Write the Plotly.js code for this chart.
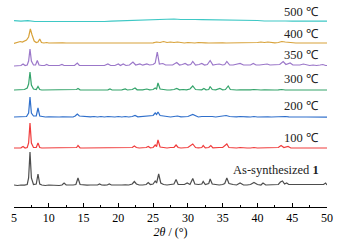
<!DOCTYPE html>
<html><head><meta charset="utf-8">
<script src="https://cdn.plot.ly/plotly-3.0.1.min.js"></script>
<style>body{margin:0;background:#fff}#c{width:340px;height:249px}</style>
</head><body><div id="c"></div>
<script>
// Series labels (bottom to top)
const labels = ['As-synthesized <b>1</b>', '100 ℃', '200 ℃', '300 ℃', '350 ℃', '400 ℃', '500 ℃'];

// As-synthesized 1
const xAs = [5,5.5,6,6.5,6.9,7.1,7.3,7.5,7.8,8.2,8.45,8.7,9,9.5,10,10.5,11,11.5,11.9,12.2,12.5,13,13.5,13.9,14.2,14.5,15,15.5,16,16.5,17,17.3,17.6,18,18.4,18.7,19,19.5,20,20.5,21,21.5,22,22.3,22.6,23,23.5,24,24.3,24.6,25,25.3,25.5,25.8,26.1,26.5,27,27.5,28,28.3,28.6,29,29.5,29.9,30.3,30.7,31,31.5,32,32.2,32.5,33,33.2,33.5,34,34.5,35,35.3,35.6,35.9,36.5,37,37.5,38,38.5,39,39.5,40,40.5,40.8,41.2,42,42.5,43,43.3,43.6,43.9,44.2,44.5,45,45.5,46,46.5,47,47.5,48,48.5,49,49.5,49.8,50];
const yAs = [1,0.5,1,0.8,1.5,8,34,8,1.5,2,12,2,1,0.5,1,0.8,1,0.5,1,3,1,0.8,1,1.5,8,1.5,1,0.8,1,0.8,1,2,1,0.8,1,2,1,1,0.8,1,1.2,1,2,4.5,2,1,1,1.5,3.5,1.5,2,5,3,12,3,1.5,1,1.5,2,6.5,1.5,1.5,1.5,3,1.5,7.5,2,1.5,2,4.5,1.5,2.5,7,2,1.5,1,1.5,2.5,8,2.5,1.5,1,3,1,1,1.5,3.5,1.5,1,3,1,1,1,1.5,4,5,2,3,1.5,1.5,1,1,1.2,1,1,1.2,1,1,1.5,3,1];

// 100 ℃
const x100 = [5,5.5,6,6.3,6.6,6.9,7.1,7.3,7.5,7.8,8.2,8.45,8.7,9,9.5,10,10.5,11,11.5,12,12.5,13,13.5,14,14.2,14.5,15,15.5,16,16.5,17,17.5,18,18.5,19,19.5,20,20.5,21,21.5,22,22.3,22.6,23,23.5,24,24.3,24.6,25,25.3,25.5,25.7,26,26.5,27,27.5,28,28.3,28.6,29,29.5,30,30.7,31.1,31.5,32,32.2,32.5,33,33.3,33.6,34,34.5,35,35.6,35.9,36.5,37,37.5,38,38.5,39,39.5,40,40.5,41,41.5,42,42.5,43,43.4,43.8,44.4,44.8,45.5,46,46.5,47,47.5,48,48.5,49,49.5,50];
const y100 = [1,0.8,1.2,2.5,1,1.5,6,26,6,1.5,1.5,6,1.5,1,1,0.8,1,1,0.8,1,1,1,1,1.5,3.5,1,1,1,0.8,1,1,1,1,1.2,1,1,1,1,1.2,1,1.5,3,1.5,1,1,1.5,2.5,1.2,1.5,4,2.5,9,2,1.2,1,1.5,1.5,4,1.5,1,1.5,1.5,5,1.5,1.2,1.5,3.5,1.2,1.5,3.5,1.2,1,1.5,1.5,5,1.5,1,1,1.5,1,1,1,1.5,1,1,1.2,1,1,1,1.5,3.5,1.5,2.5,1,1,1,1,1,1,1,1,1,1,1];

// 200 ℃
const x200 = [5,5.5,6,6.4,6.8,7.1,7.3,7.5,7.8,8.2,8.45,8.7,9,9.5,10,10.5,11,11.5,12,12.5,13,13.5,13.8,14.1,14.4,15,15.5,16,16.5,17,17.5,18,18.5,19,19.5,20,20.5,21,21.5,22,22.4,22.8,23.5,24,24.5,25,25.3,25.5,25.7,26,26.5,27,27.5,28,28.5,29,29.5,30,30.7,31.2,31.5,32,32.5,33,33.5,34,34.5,35,35.5,36,36.5,37,37.5,38,38.5,39,39.5,40,40.5,41,41.5,42,42.5,43,43.5,44,44.5,45,45.5,46,46.5,47,47.5,48,48.5,49,49.5,50];
const y200 = [1,1,1.2,1.5,1.5,5,21,5,2,2,10,2,1.5,1,1.2,1,1,1,1.2,1,1.2,1,2,4,2,1.5,1,1.2,1.5,1,1.5,1,1.5,1.2,1,1.5,1,1.5,1,1.5,2.5,1.2,1.5,1.5,2,2.5,5,3.5,6,2.5,2,1.5,1,1.5,2,1.2,1.5,1.5,3.5,1.5,1,1.5,1.5,2,1.5,1,1.5,1.5,2.5,1.5,1,1.2,1.5,1,1.2,1,1.5,1,1.2,1,1.2,1,1.2,1.5,2,1.5,1.2,1,1,1.2,1,1,1,1,1,1,1,0.8];

// 300 ℃
const x300 = [5,5.5,6,6.5,6.9,7.1,7.3,7.5,7.8,8.2,8.45,8.7,9,9.5,10,10.5,11,11.5,12,12.5,13,13.5,14,14.2,14.5,15,15.5,16,16.5,17,17.5,18,18.5,18.8,19.1,19.5,20,20.5,21,21.3,22,22.4,22.7,23.5,24.1,24.5,25,25.3,25.5,25.7,26,26.5,27,27.5,28,28.4,28.8,29.3,29.8,30.3,30.7,31.1,31.5,32,32.3,32.6,33,33.2,33.5,34,34.6,35,35.4,35.8,36.1,36.5,37,37.5,38,38.5,39,39.5,40,40.5,41,41.5,42,42.5,43,43.5,44,44.5,45,45.5,46,46.5,47,47.5,48,48.5,49,49.5,50];
const y300 = [1,1,1.2,1.5,3,7,19,6,2,1.5,4.5,1.5,1,1,1,1,1,1,1,1,1,1,1.5,2.5,1.2,1,1,1,1,1.2,1,1,1.2,2,1,1,1,1.2,2,1,1.5,3,1.2,1.2,2,1.2,1.5,3,2,8,2,1.2,1,1.2,1.5,2.5,1.2,1.5,1.2,2,5,1.5,1.5,1.2,2.5,1.2,1.5,4.5,1.5,1.2,2.5,1.2,1.5,5,1.5,1,1,1.2,1,1,1.2,1.5,1,1,1.2,1,1,1,1.2,1.5,1,1,1,1,1,1,1,1,1,1,1,1,1];

// 350 ℃
const x350 = [5,5.5,6,6.3,6.6,6.9,7.1,7.3,7.5,7.8,8.1,8.35,8.6,9,9.4,9.7,10,10.5,11,11.5,11.9,12.2,12.7,13.2,13.7,14.1,14.4,15,15.5,16,16.5,17,17.5,18,18.5,18.9,19.5,20,20.3,20.7,21.1,21.6,22.1,22.5,23.1,23.5,24.1,24.5,25,25.3,25.6,25.9,26.4,26.8,27.3,27.8,28.4,28.8,29.2,29.6,30,30.4,30.7,31.1,31.6,32,32.4,32.8,33.2,33.6,34,34.5,35,35.3,35.6,36,36.5,37,37.5,38,38.5,39,39.4,39.8,40.3,40.8,41.4,41.8,42.3,42.8,43.2,43.7,44.1,44.7,45.1,45.6,46.1,46.6,47,47.5,48,48.5,49,49.4,49.8,50];
const y350 = [1,1.5,1.5,3,1.5,2,6,18,6,2,2,6.5,2,1.5,1.5,2.5,1.5,1.5,1.2,1.5,2.5,1.5,1.5,1.5,1.5,4,1.5,1.5,1.5,1.5,1.5,1.5,1.5,1.5,3,1.5,1.5,3,1.5,3,1.5,2,5,2,3,1.8,3,2,2.5,4,15,3,3.5,2,2,2,4.5,2,2.5,3.5,2,2.5,5.5,2,2.5,3.5,2,2.5,6.5,2,2.5,3,2,2.5,5.5,2,2,2.5,3.5,2,2,2,3.5,2,2,2.5,3,2,2,2,2.5,5.5,2.5,4,2,2,2,3,2,1.5,2,1.5,2,2.5,1.5,1.5];

// 400 ℃
const x400 = [5,5.5,5.9,6.2,6.5,6.8,7.1,7.35,7.6,7.9,8.2,8.45,8.7,8.95,9.3,9.7,10,10.5,11,11.5,12,12.5,13,13.5,14,14.5,15,15.5,16,16.5,17,17.5,18,18.5,19,19.5,20,20.5,21,21.5,22,22.5,23,23.5,24,24.5,25,25.5,26,26.5,27,27.5,28,28.5,29,29.5,30,30.5,31,31.5,32,32.5,33,33.5,34,34.5,35,35.5,36,36.5,37,37.5,38,38.5,39,39.5,40,40.5,41,41.5,42,42.5,43,43.5,44,44.5,45,45.5,46,46.5,47,47.5,48,48.5,49,49.5,50];
const y400 = [0.5,1.5,2.5,2,3,4,7,15,9,3,1.5,2,5,1.5,1,1.5,1,1.2,1,1,1.2,1,1,1.2,1,1.2,1,1,1.2,1,1,1,1,1,1,1,1,1,1,1,1,1,1,1,1.2,1.5,1.2,2,1.5,2.5,1.5,2,1.5,2,1.5,1,1.5,1.2,1,1.5,1,1.2,1,1.2,1,1,1.2,1,1,1.2,1,1,1,1,1.2,1,1.5,2,1.5,2,1.5,1.2,1.5,2.5,2,1.5,1,1,1,1,1,1,1,1,1,1,1];

// 500 ℃
const x500 = [5,6,7,8,9,10,11,12,13,14,15,16,17,18,19,20,21,22,23,24,24.5,25,26,27,28,29,30,31,32,33,34,35,36,37,38,39,40,41,42,43,44,45,46,47,48,49,50];
const y500 = [2.3,1.8,2.3,1.5,1.5,1.5,1,1.3,1,1.2,1.5,1.3,1.5,1.5,1.8,2,2.3,2.5,3,3,3.5,3.2,3.8,3.7,4,3.5,3.8,3.5,3.3,3.2,3.5,3,2.8,2.5,2.7,2.3,2.5,2,2.2,2.5,2,1.8,1.8,2,1.8,1.7,1.8];

const xs = [xAs, x100, x200, x300, x350, x400, x500];
const ys = [yAs, y100, y200, y300, y350, y400, y500];
const colors = ['#4d4d4d', '#f03c3c', '#2f6fcb', '#34a46b', '#9b77c9', '#d8a23a', '#3ec8c5'];
const offsets = [21, 58, 89, 116, 140, 163, 184];
const labelY = [37, 69, 101, 128, 152, 173, 195];

const traces = xs.map((x, i) => ({
  x: x, y: ys[i].map(v => v + offsets[i]), type: 'scatter', mode: 'lines',
  line: {color: colors[i], width: 1.2}, hoverinfo: 'skip', showlegend: false
}));

const serif = 'Liberation Serif, Times New Roman, serif';
const annotations = labels.map((t, i) => ({
  x: 49.2, y: labelY[i], xref: 'x', yref: 'y', text: t, showarrow: false,
  xanchor: 'right', yanchor: 'middle', font: {family: serif, size: 12.5, color: '#222'}
}));

const layout = {
  width: 340, height: 249,
  margin: {l: 14, r: 13, t: 7, b: 42},
  paper_bgcolor: '#fff', plot_bgcolor: '#fff',
  showlegend: false,
  xaxis: {
    range: [5, 50], dtick: 5, tick0: 5, showgrid: false, zeroline: false,
    showline: true, linecolor: '#000', linewidth: 1,
    ticks: 'inside', ticklen: 4, tickcolor: '#000', tickwidth: 1,
    minor: {ticks: 'inside', ticklen: 2, dtick: 2.5, tick0: 5, tickcolor: '#000', showgrid: false},
    tickfont: {family: serif, size: 12, color: '#000'},
    title: {text: '<i>2θ</i> / (°)', font: {family: serif, size: 12, color: '#000'}, standoff: 2}
  },
  yaxis: {visible: false, range: [0, 200], fixedrange: true},
  annotations: annotations
};
Plotly.newPlot('c', traces, layout, {displayModeBar: false, staticPlot: true});
</script></body></html>
